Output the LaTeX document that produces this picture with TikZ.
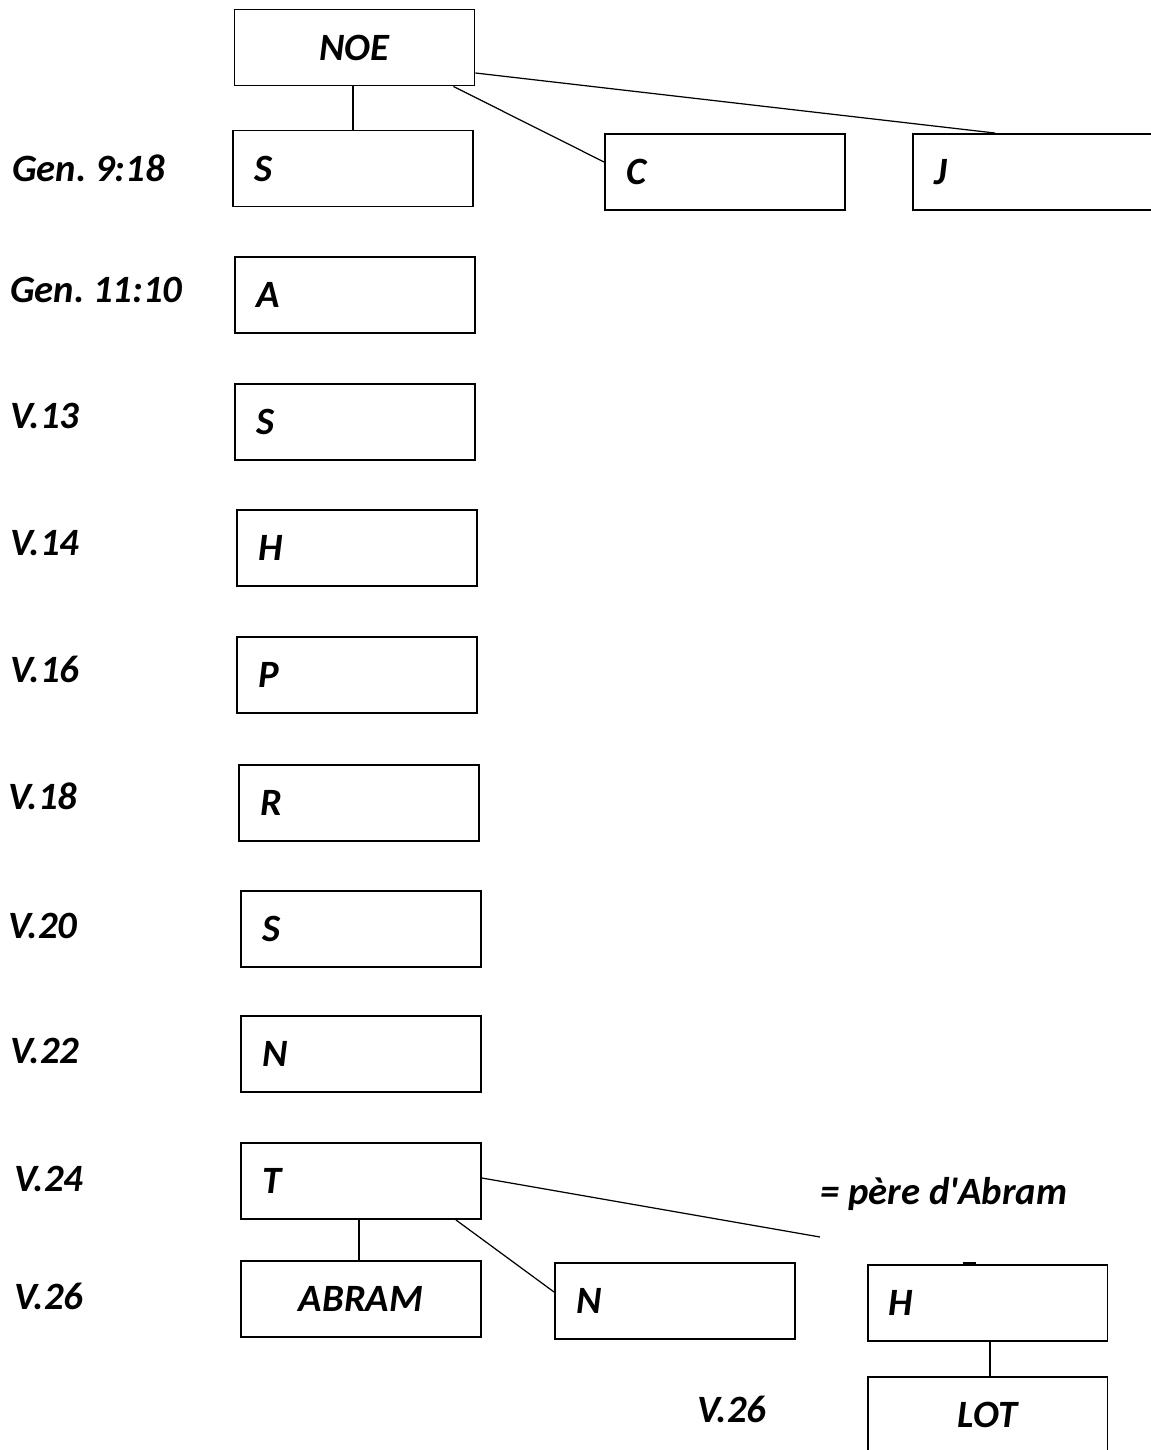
\documentclass[tikz,border=0pt]{standalone}
\usepackage{fontspec}
\setmainfont{Carlito}
\frenchspacing
\begin{document}
\begin{tikzpicture}[x=0.02cm,y=-0.02cm,font=\fontsize{22}{26}\selectfont\bfseries\itshape]

        % Styles des cases et des liens
        \tikzset{
          boite/.style={draw, line width=1.1pt, minimum width=4.8cm, minimum height=1.52cm,
                        inner xsep=0.42cm, text width=3.96cm, align=left},
          boitec/.style={boite, align=center},
          verset/.style={anchor=west, inner sep=0pt},
          lien/.style={line width=0.7pt}
        }
        \useasboundingbox (0,0) rectangle (1151,1450);

        % Noe et ses fils
        \node[boitec] (noe) at (354.5,47.5) {NOE\hspace*{0.2cm}};
        \node[boite] (sem) at (353,168.5) {S};
        \node[boite] (cham) at (725,172) {C};
        \node[boite] (japhet) at (1033,172) {J};

        % Descendance de Sem
        \node[boite] (arpa) at (355,295) {A};
        \node[boite] (sela) at (355,422) {S};
        \node[boite] (heber) at (357,548) {H};
        \node[boite] (peleg) at (357,675) {P};
        \node[boite] (rehu) at (359,803) {R};
        \node[boite] (serug) at (361,929) {S};
        \node[boite] (nachor) at (361,1054) {N};
        \node[boite] (terach) at (361,1181) {T};

        % Fils de Terach
        \node[boitec] (abram) at (361,1299) {ABRAM\hspace*{0.45cm}};
        \node[boite] (nachor2) at (675,1301) {N};
        \node[boite] (haran) at (987.5,1303) {H};
        \node[boitec] (lot) at (987.5,1415) {LOT};

        % References bibliques
        \node[verset] (g1) at (12,168) {Gen. 9:18};
        \node[verset] (g2) at (10,290) {Gen. 11:10};
        \node[verset] (v13) at (10,416) {V.13};
        \node[verset] (v14) at (10,543) {V.14};
        \node[verset] (v16) at (10,669) {V.16};
        \node[verset] (v18) at (8,796) {V.18};
        \node[verset] (v20) at (8,926) {V.20};
        \node[verset] (v22) at (10,1051) {V.22};
        \node[verset] (v24) at (14,1179) {V.24};
        \node[verset] (v26) at (14,1296) {V.26};
        \node[verset] (v26b) at (697,1409) {V.26};
        \node[verset] (pere) at (820,1194) {= père d\textquotesingle Abram};

        % Liens
        \coordinate (fin) at (820,1237);
        \draw[lien] (noe.south -| sem.north) -- (sem.north);
        \draw[lien] ([xshift=-0.44cm]noe.south east) -- ([yshift=0.2cm]cham.west);
        \draw[lien] ([yshift=-0.51cm]noe.east) -- ([xshift=-0.76cm]japhet.north);
        \draw[lien] ([xshift=-0.04cm]terach.south) -- ([xshift=-0.04cm]abram.north);
        \draw[lien] ([xshift=-0.52cm]terach.south east) -- ([yshift=0.18cm]nachor2.west);
        \draw[lien] ([yshift=0.06cm]terach.east) -- (fin);
        \draw[lien] ([xshift=0.05cm]haran.south) -- ([xshift=0.05cm]lot.north);
        \draw[line width=2pt] ([xshift=-0.5cm]haran.north) -- ([xshift=-0.24cm]haran.north);

    \end{tikzpicture}
\end{document}
